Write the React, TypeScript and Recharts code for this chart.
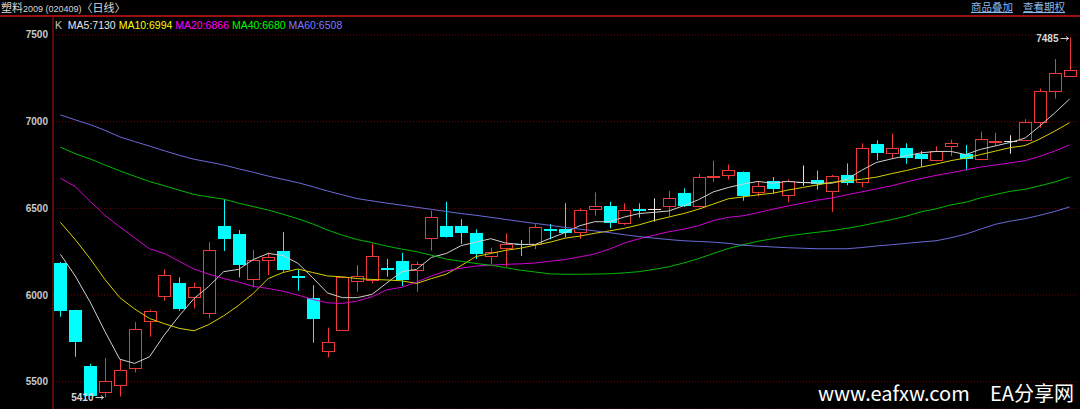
import { Bar, CartesianGrid, ComposedChart, Line, XAxis, YAxis } from "recharts";

// daily bars (69 sessions)
const opens = [
  6183, 5912, 5590, 5442, 5481, 5577, 5848, 5992, 6067, 5988,
  5898, 6400, 6350, 6090, 6200, 6254, 6108, 5981, 5677, 5798,
  6081, 6087, 6158, 6198, 6144, 6327, 6398, 6398, 6360, 6225,
  6269, 6292, 6292, 6383, 6379, 6362, 6498, 6515, 6413, 6498,
  6496, 6513, 6587, 6515, 6680, 6693, 6708, 6595, 6656, 6575,
  6651, 6666, 6598, 6695, 6651, 6869, 6820, 6849, 6811, 6776,
  6857, 6811, 6786, 6884, 6888, 6894, 7000, 7176, 7261,
];
const highs = [
  6190, 5915, 5604, 5637, 5629, 5844, 5917, 6148, 6102, 6071,
  6304, 6552, 6375, 6260, 6244, 6363, 6148, 6056, 5812, 6106,
  6173, 6298, 6208, 6244, 6192, 6487, 6538, 6437, 6379, 6273,
  6356, 6317, 6410, 6410, 6529, 6498, 6592, 6538, 6529, 6529,
  6558, 6600, 6615, 6700, 6774, 6753, 6712, 6656, 6681, 6666,
  6747, 6718, 6693, 6759, 6875, 6892, 6931, 6875, 6830, 6857,
  6896, 6865, 6942, 6936, 6921, 7014, 7191, 7361, 7485,
];
const lows = [
  5875, 5644, 5419, 5410, 5415, 5554, 5760, 5967, 5908, 5923,
  5865, 6254, 6102, 6044, 6115, 6135, 6025, 5725, 5640, 5796,
  6019, 6067, 6106, 6052, 6019, 6256, 6331, 6294, 6208, 6177,
  6163, 6225, 6265, 6321, 6333, 6325, 6458, 6385, 6404, 6446,
  6423, 6452, 6508, 6505, 6651, 6666, 6544, 6569, 6585, 6535,
  6631, 6608, 6479, 6633, 6622, 6778, 6786, 6757, 6739, 6772,
  6801, 6718, 6782, 6859, 6815, 6892, 6965, 7133, 7258,
];
const closes = [
  5908, 5731, 5420, 5506, 5567, 5804, 5906, 6115, 5917, 6044,
  6258, 6325, 6173, 6202, 6221, 6144, 6098, 5863, 5727, 6104,
  6110, 6223, 6146, 6087, 6177, 6448, 6337, 6356, 6237, 6246,
  6292, 6288, 6394, 6369, 6360, 6488, 6513, 6413, 6488, 6485,
  6496, 6558, 6513, 6681, 6688, 6722, 6569, 6631, 6612, 6656,
  6651, 6643, 6689, 6647, 6849, 6820, 6849, 6790, 6782, 6830,
  6875, 6782, 6898, 6890, 6888, 7000, 7178, 7280, 7299,
];

// moving averages as drawn by the terminal
const ma5 = [
  6235, 6110, 5960, 5790, 5630, 5606, 5644, 5770, 5880, 5980,
  6050, 6135, 6148, 6205, 6240, 6228, 6183, 6100, 6012, 5985,
  5985, 6004, 6070, 6135, 6148, 6217, 6240, 6285, 6305, 6325,
  6300, 6292, 6292, 6327, 6360, 6400, 6423, 6423, 6450, 6470,
  6477, 6485, 6515, 6550, 6595, 6620, 6640, 6655, 6645, 6655,
  6649, 6646, 6645, 6668, 6720, 6765, 6785, 6804, 6820, 6828,
  6828, 6810, 6840, 6860, 6880, 6905, 6975, 7050, 7130,
];
const ma10 = [
  6419, 6320, 6210, 6090, 5985, 5920, 5865, 5835, 5808, 5794,
  5830, 5880, 5940, 6010, 6095, 6130, 6150, 6130, 6110, 6105,
  6095, 6090, 6087, 6082, 6067, 6095, 6120, 6170, 6222, 6240,
  6258, 6270, 6288, 6305, 6328, 6340, 6356, 6370, 6385, 6405,
  6430, 6450, 6470, 6495, 6525, 6555, 6566, 6578, 6587, 6605,
  6620, 6635, 6650, 6658, 6668, 6680, 6700, 6718, 6738, 6755,
  6775, 6790, 6810, 6830, 6850, 6862, 6900, 6945, 6994,
];
const ma20 = [
  6674, 6625, 6540, 6460, 6393, 6330, 6267, 6240, 6195, 6150,
  6120, 6095, 6075, 6050, 6038, 6022, 6000, 5975, 5955, 5952,
  5965, 5990, 6030, 6045, 6075, 6110, 6140, 6155, 6167, 6172,
  6177, 6180, 6185, 6195, 6205, 6220, 6237, 6265, 6300, 6325,
  6345, 6365, 6380, 6400, 6430, 6448, 6457, 6475, 6495, 6513,
  6530, 6547, 6560, 6578, 6595, 6613, 6630, 6652, 6672, 6690,
  6705, 6722, 6738, 6750, 6762, 6775, 6800, 6830, 6866,
];
const ma40 = [
  6853, 6815, 6785, 6750, 6716, 6685, 6655, 6630, 6605, 6580,
  6566, 6553, 6530, 6510, 6490, 6466, 6440, 6410, 6375, 6345,
  6320, 6302, 6282, 6265, 6250, 6230, 6207, 6195, 6182, 6172,
  6158, 6143, 6133, 6122, 6120, 6120, 6121, 6123, 6128, 6135,
  6148, 6163, 6185, 6210, 6240, 6268, 6290, 6310, 6325, 6340,
  6352, 6362, 6372, 6385, 6400, 6418, 6435, 6455, 6480, 6497,
  6520, 6535, 6560, 6580, 6598, 6610, 6630, 6652, 6680,
];
const ma60 = [
  7039, 7010, 6983, 6950, 6912, 6885, 6859, 6832, 6806, 6783,
  6767, 6750, 6728, 6708, 6686, 6667, 6648, 6625, 6600, 6578,
  6556, 6543, 6530, 6518, 6506, 6494, 6482, 6470, 6460, 6448,
  6436, 6424, 6413, 6402, 6390, 6380, 6370, 6360, 6348, 6337,
  6328, 6320, 6313, 6309, 6305, 6298, 6287, 6282, 6277, 6273,
  6270, 6267, 6267, 6267, 6274, 6283, 6290, 6298, 6306, 6313,
  6330, 6351, 6380, 6408, 6426, 6440, 6460, 6482, 6508,
];

const yTicks = [5500, 6000, 6500, 7000, 7500];

const UP = "#ee3a36";
const DOWN = "#00ffff";
const FLAT = "#e6e6e6";
const LABEL_FONT = "'Liberation Sans', Arial, 'DejaVu Sans', sans-serif";
const CJK_FONT = "'Noto Sans CJK SC', 'Liberation Sans', sans-serif";

const rows = opens.map((open, i) => ({
  i,
  open,
  high: highs[i],
  low: lows[i],
  close: closes[i],
  range: [lows[i], highs[i]],
  ma5: ma5[i],
  ma10: ma10[i],
  ma20: ma20[i],
  ma40: ma40[i],
  ma60: ma60[i],
}));

const hiIdx = highs.indexOf(Math.max(...highs));
const loIdx = lows.indexOf(Math.min(...lows));

const maLines = [
  { key: "ma5", color: "#cfcfcf" },
  { key: "ma10", color: "#d8d000" },
  { key: "ma20", color: "#d400d4" },
  { key: "ma40", color: "#00bb00" },
  { key: "ma60", color: "#6a6ad8" },
];

const legend = [
  { text: "K ", color: "#c8c8c8" },
  { text: "MA5:7130", color: "#e8e8e8" },
  { text: "MA10:6994", color: "#ffff00" },
  { text: "MA20:6866", color: "#ff00ff" },
  { text: "MA40:6680", color: "#00ff00" },
  { text: "MA60:6508", color: "#7b7bff" },
];

// price tag with a small arrow pointing at the wick tip
function PriceTag({ cx, y, value }: { cx: number; y: number; value: number }) {
  const yy = Math.round(y) + 0.5;
  return (
    <g>
      <text x={cx - 12} y={yy} dy="0.36em" textAnchor="end" fill="#d8d8d8" fontSize={10} fontWeight="bold" fontFamily={LABEL_FONT}>
        {value}
      </text>
      <path d={`M${cx - 10} ${yy}H${cx - 2}M${cx - 4.5} ${yy - 2}L${cx - 2} ${yy}L${cx - 4.5} ${yy + 2}`} stroke="#cfcfcf" strokeWidth={1} fill="none" />
    </g>
  );
}

function Candle(props: any) {
  const { x, y, width, height, payload, index } = props;
  if (payload == null || !Number.isFinite(y)) return null;
  const top = Math.min(y, y + height);
  const h = Math.abs(height);
  const { open, close, high, low } = payload;
  const k = h / Math.max(high - low, 1);
  const py = (v: number) => top + (high - v) * k;
  const cx = Math.round(x + width / 2) + 0.5;
  const yH = py(high);
  const yL = py(low);

  let body;
  let wick;
  if (close > open) {
    const t = Math.round(py(close)) + 0.5;
    const b = Math.max(Math.round(py(open)) + 0.5, t + 1);
    body = <rect x={cx - 6} y={t} width={12} height={b - t} fill="#000" stroke={UP} strokeWidth={1} />;
    wick = (
      <g stroke={UP} strokeWidth={1}>
        <line x1={cx} x2={cx} y1={yH} y2={t} />
        <line x1={cx} x2={cx} y1={b} y2={yL} />
      </g>
    );
  } else if (close < open) {
    const t = Math.round(py(open));
    const b = Math.max(Math.round(py(close)), t + 1);
    wick = <line x1={cx} x2={cx} y1={yH} y2={yL} stroke={DOWN} strokeWidth={1} />;
    body = <rect x={cx - 6.5} y={t} width={13} height={b - t} fill={DOWN} />;
  } else {
    const m = Math.round(py(open)) + 0.5;
    wick = <line x1={cx} x2={cx} y1={yH} y2={yL} stroke={FLAT} strokeWidth={1} />;
    body = <line x1={cx - 6.5} x2={cx + 6.5} y1={m} y2={m} stroke={FLAT} strokeWidth={1} />;
  }

  return (
    <g>
      {wick}
      {body}
      {index === hiIdx && <PriceTag cx={cx} y={yH} value={high} />}
      {index === loIdx && <PriceTag cx={cx} y={yL} value={low} />}
    </g>
  );
}

export default function App() {
  return (
    <div style={{ position: "absolute", left: 0, top: 0, width: 1080, height: 409, background: "#000", overflow: "hidden" }}>
      <ComposedChart width={1080} height={409} data={rows} margin={{ top: 16, right: 3, bottom: 0, left: 0 }}>
        <CartesianGrid vertical={false} stroke="#7c0000" strokeDasharray="1 2" />
        <XAxis dataKey="i" hide />
        <YAxis
          domain={[5343, 7609]}
          ticks={yTicks}
          allowDataOverflow
          width={53}
          axisLine={{ stroke: "#b01414" }}
          tickLine={false}
          tickSize={0}
          tickMargin={5}
          tick={{ fill: "#c8c8c8", fontSize: 10, fontWeight: "bold", fontFamily: LABEL_FONT }}
        />
        <Bar dataKey="range" shape={Candle} isAnimationActive={false} />
        {maLines.map((m) => (
          <Line
            key={m.key}
            type="linear"
            dataKey={m.key}
            stroke={m.color}
            strokeWidth={1}
            dot={false}
            activeDot={false}
            isAnimationActive={false}
          />
        ))}
      </ComposedChart>

      <svg width={1080} height={409} style={{ position: "absolute", left: 0, top: 0, pointerEvents: "none" }}>
        <rect x={0} y={15} width={1080} height={2} fill="#9c1010" />
        <text x={1} y={12} fill="#d8d8d8" fontSize={11} fontFamily={CJK_FONT}>
          塑料
          <tspan fontSize={9} fontFamily={LABEL_FONT}>2009 (020409)</tspan>
          〈日线〉
        </text>
        <text x={971} y={11} fill="#8ab8ec" fontSize={10.5} fontFamily={CJK_FONT} textDecoration="underline">
          商品叠加
        </text>
        <text x={1023} y={11} fill="#8ab8ec" fontSize={10.5} fontFamily={CJK_FONT} textDecoration="underline">
          查看期权
        </text>
        <text x={55} y={29} fontSize={10.5} fontFamily={LABEL_FONT} xmlSpace="preserve">
          {legend.map((l, i) => (
            <tspan key={i} fill={l.color}>
              {(i > 0 ? " " : "") + l.text}
            </tspan>
          ))}
        </text>
        <text x={818} y={401} fill="#ffffff" fontSize={20} fontFamily={CJK_FONT}>
          www.eafxw.com
        </text>
        <text x={990} y={401} fill="#ffffff" fontSize={20} fontFamily={CJK_FONT}>
          EA分享网
        </text>
      </svg>
    </div>
  );
}
